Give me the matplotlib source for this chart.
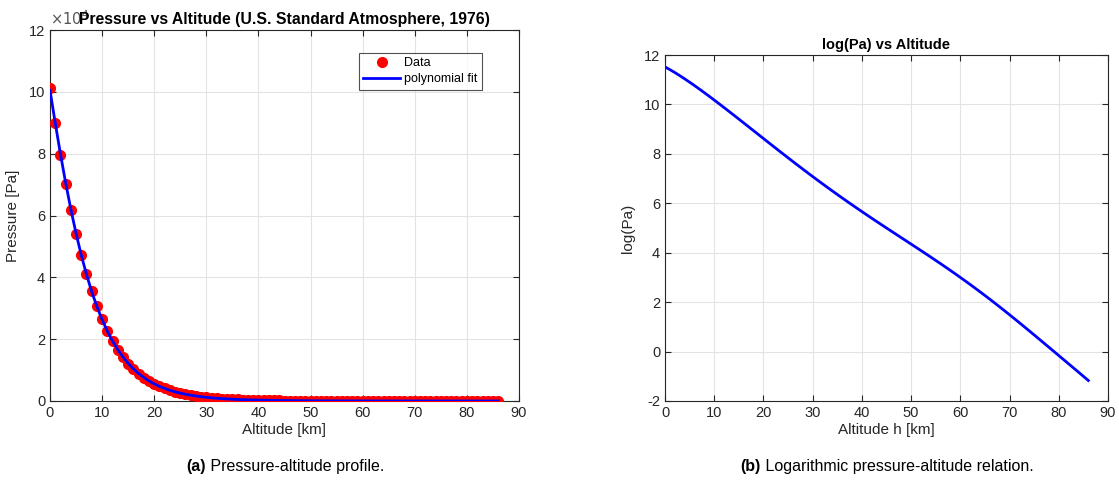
#!/usr/bin/env python
"""Pressure vs altitude (U.S. Standard Atmosphere 1976) with a log-pressure panel."""

import matplotlib

matplotlib.use("Agg")
import matplotlib.pyplot as plt
import numpy as np
from matplotlib.ticker import FuncFormatter

# altitude in km, pressure in Pa (1 km steps)
altitude_km = list(range(0, 87))
pressure_pa = [
    101325, 89876, 79501, 70121, 61660, 54048, 47217, 41105, 35651, 30800,
    26500, 22700, 19399, 16579, 14170, 12111, 10352, 8849, 7565, 6467,
    5529, 4729, 4047, 3467, 2972, 2549, 2188, 1880, 1616, 1390,
    1197, 1031, 889, 767, 663, 575, 498, 433, 377, 328,
    287, 251, 220, 193, 169, 149, 131, 116, 102, 90,
    77, 67.2, 58.9, 51.6, 45.2, 39.6, 34.7, 30.4, 26.7, 23.4,
    20.5, 17.6, 15.1, 13.0, 11.2, 9.58, 8.23, 7.07, 6.07, 5.22,
    4.48, 3.80, 3.22, 2.72, 2.31, 1.95, 1.66, 1.40, 1.19, 1.01,
    0.85, 0.72, 0.61, 0.515, 0.435, 0.368, 0.31,
]
fit_degree = 8

x_ticks = list(range(0, 100, 10))
left_y_ticks = [0, 2, 4, 6, 8, 10, 12]
right_y_ticks = [-2, 0, 2, 4, 6, 8, 10, 12]

AX_COLOR = "#262626"
GRID_COLOR = "#e3e3e3"
plt.rcParams["font.family"] = ["Liberation Sans", "DejaVu Sans"]
plt.rcParams["axes.unicode_minus"] = False


def matlab_style(ax):
    for sp in ax.spines.values():
        sp.set_color(AX_COLOR)
        sp.set_linewidth(0.8)
    ax.tick_params(direction="in", top=True, right=True, colors=AX_COLOR,
                   labelsize=10.5, length=4, width=0.8)
    ax.grid(True, color=GRID_COLOR, linewidth=0.8)
    ax.set_axisbelow(True)


def caption(fig, xc, yc, bold, rest):
    """Centered caption with a bold prefix."""
    t1 = fig.text(0, yc, bold, fontsize=11.5, fontweight="bold", va="center")
    t2 = fig.text(0, yc, rest, fontsize=11.5, va="center")
    r = fig.canvas.get_renderer()
    w1 = t1.get_window_extent(r).width / fig.bbox.width
    w2 = t2.get_window_extent(r).width / fig.bbox.width
    x0 = xc - (w1 + w2) / 2
    t1.set_x(x0)
    t2.set_x(x0 + w1)


h = np.array(altitude_km, dtype=float)
p = np.array(pressure_pa, dtype=float)
poly = np.polynomial.Polynomial.fit(h, np.log(p), fit_degree)
logp_fit = poly(h)
p_fit = np.exp(logp_fit)

fig = plt.figure(figsize=(11.19, 4.86), dpi=100)
W, H = 1119, 486
ax1 = fig.add_axes([50 / W, 1 - 401 / H, 469 / W, 371 / H])
ax2 = fig.add_axes([665 / W, 1 - 401 / H, 443 / W, 346 / H])

# ---- left: pressure profile -------------------------------------------------
matlab_style(ax1)
ax1.plot(h, p, "o", color="red", markersize=7, label="Data", zorder=3)
ax1.plot(h, p_fit, "-", color="blue", linewidth=2, label="polynomial fit", zorder=4)
ax1.set_xlim(0, 90)
ax1.set_ylim(0, 1.2e5)
ax1.set_xticks(x_ticks)
ax1.set_yticks([v * 1e4 for v in left_y_ticks])
ax1.yaxis.set_major_formatter(FuncFormatter(lambda v, _: f"{v / 1e4:g}"))
ax1.text(0.0, 1.005, r"$\times10^4$", transform=ax1.transAxes, fontsize=10.5,
         color="#555555", ha="left", va="bottom")
ax1.set_xlabel("Altitude [km]", fontsize=11, color=AX_COLOR, labelpad=2)
ax1.set_ylabel("Pressure [Pa]", fontsize=11, color=AX_COLOR, labelpad=6)
ax1.set_title("Pressure vs Altitude (U.S. Standard Atmosphere, 1976)",
              fontsize=11.3, fontweight="bold", pad=4)
leg = ax1.legend(loc="upper right", bbox_to_anchor=(0.921, 0.938), fontsize=9,
                 frameon=True, fancybox=False, edgecolor=AX_COLOR,
                 borderpad=0.35, borderaxespad=0, handlelength=3.0,
                 handletextpad=0.3, labelspacing=0.3)
leg.get_frame().set_linewidth(0.8)

# ---- right: log pressure ----------------------------------------------------
matlab_style(ax2)
ax2.plot(h, logp_fit, "-", color="blue", linewidth=2)
ax2.set_xlim(0, 90)
ax2.set_ylim(-2, 12)
ax2.set_xticks(x_ticks)
ax2.set_yticks(right_y_ticks)
ax2.set_xlabel("Altitude h [km]", fontsize=11, color=AX_COLOR, labelpad=2)
ax2.set_ylabel("log(Pa)", fontsize=11, color=AX_COLOR, labelpad=6)
ax2.set_title("log(Pa) vs Altitude", fontsize=10.5, fontweight="bold", pad=4)

# ---- captions ---------------------------------------------------------------
caption(fig, 285 / W, 1 - 466 / H, "(a)", " Pressure-altitude profile.")
caption(fig, 887 / W, 1 - 466 / H, "(b)", " Logarithmic pressure-altitude relation.")

fig.savefig("out.png", dpi=100)
